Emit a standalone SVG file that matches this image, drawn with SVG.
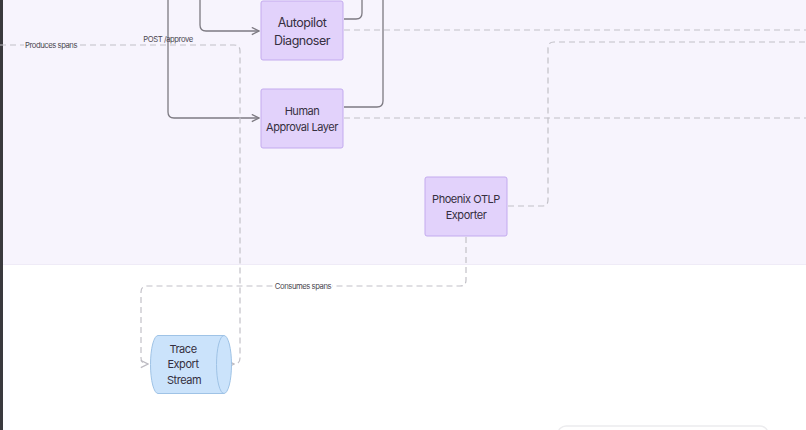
<svg xmlns="http://www.w3.org/2000/svg" width="806" height="430" viewBox="0 0 806 430">
<defs>
<marker id="arr" viewBox="0 0 10 10" refX="9" refY="5" markerWidth="9" markerHeight="9" markerUnits="userSpaceOnUse" orient="auto"><path d="M1,1 L9,5 L1,9" fill="none" stroke="#7d7a82" stroke-width="1.4"/></marker>
<marker id="arrd" viewBox="0 0 10 10" refX="9" refY="5" markerWidth="9" markerHeight="9" markerUnits="userSpaceOnUse" orient="auto"><path d="M1,1 L9,5 L1,9" fill="none" stroke="#bdbbc2" stroke-width="1.4"/></marker>
</defs>
<style>
.solid{fill:none;stroke:#7d7a82;stroke-width:1.3}
.dash{fill:none;stroke:#c2c0c7;stroke-width:1.2;stroke-dasharray:6 4}
.node{fill:#e2d2fb;stroke:#c3aaee;stroke-width:1}
.nt{font-family:Inter,"Liberation Sans",sans-serif;fill:#352f40;text-anchor:middle;letter-spacing:-0.45px}
.lbl{font-family:Inter,"Liberation Sans",sans-serif;font-size:7.7px;fill:#4a4650;text-anchor:middle;letter-spacing:-0.45px}
</style>
<rect x="0" y="0" width="806" height="430" fill="#ffffff"/>
<rect x="3" y="0" width="803" height="264" fill="#f7f4fd"/>
<line x1="3" y1="264.5" x2="806" y2="264.5" stroke="#efebf7" stroke-width="1"/>
<rect x="0" y="0" width="3" height="430" fill="#3a3a3d"/>
<rect x="558" y="426" width="210" height="20" rx="8" fill="#ffffff" stroke="#ececee" stroke-width="1.5"/>
<g id="connectors">
<path class="solid" d="M168,0 V112 Q168,118 174,118 H259" marker-end="url(#arr)"/>
<path class="solid" d="M200,0 V25 Q200,31 206,31 H259" marker-end="url(#arr)"/>
<path class="solid" d="M344,19 H356 Q362,19 362,13 V0"/>
<path class="solid" d="M344,107 H377 Q383,107 383,101 V0"/>
<path class="dash" d="M344,30 H806"/>
<path class="dash" d="M344,118 H806"/>
<path class="dash" d="M508,206 H542 Q548,206 548,200 V48 Q548,42 554,42 H806"/>
<path class="dash" d="M466,237 V280 Q466,286 460,286 H147 Q141,286 141,292 V358 Q141,364 147,364 H148" marker-end="url(#arrd)"/>
<path class="dash" d="M0,45 H234 Q240,45 240,51 V358 Q240,364 234,364 H234" marker-end="url(#arrd)"/>
<rect x="24" y="40" width="56" height="10" fill="#f7f4fd"/>
<text class="lbl" x="51" y="48">Produces spans</text>
<rect x="274" y="281" width="58" height="10" fill="#ffffff"/>
<text class="lbl" x="303" y="289">Consumes spans</text>
<text class="lbl" x="168" y="42">POST /approve</text>
</g>
<g id="autopilot-diagnoser">
<rect class="node" x="261" y="1" width="82" height="59" rx="2"/>
<text class="nt" font-size="12.5" x="302" y="27">Autopilot</text>
<text class="nt" font-size="12.5" x="302" y="45">Diagnoser</text>
</g>
<g id="human-approval-layer">
<rect class="node" x="261" y="89" width="82" height="59" rx="2"/>
<text class="nt" font-size="11" x="302" y="115">Human</text>
<text class="nt" font-size="11" x="302" y="131">Approval Layer</text>
</g>
<g id="phoenix-otlp-exporter">
<rect class="node" x="425" y="177" width="82" height="59" rx="2"/>
<text class="nt" font-size="11" x="466" y="203">Phoenix OTLP</text>
<text class="nt" font-size="11" x="466" y="219">Exporter</text>
</g>
<g id="trace-export-stream">
<path d="M158,335.5 H224 A7.5,29 0 0 1 224,393.5 H158 A7.5,29 0 0 1 158,335.5 Z" fill="#cbe3fb" stroke="#9fc3e6" stroke-width="1"/>
<path d="M224,335.5 A7.5,29 0 0 0 224,393.5" fill="none" stroke="#9fc3e6" stroke-width="1"/>
<text class="nt" font-size="11" x="183" y="353">Trace</text>
<text class="nt" font-size="11" x="183" y="368">Export</text>
<text class="nt" font-size="11" x="184" y="384">Stream</text>
</g>
</svg>
